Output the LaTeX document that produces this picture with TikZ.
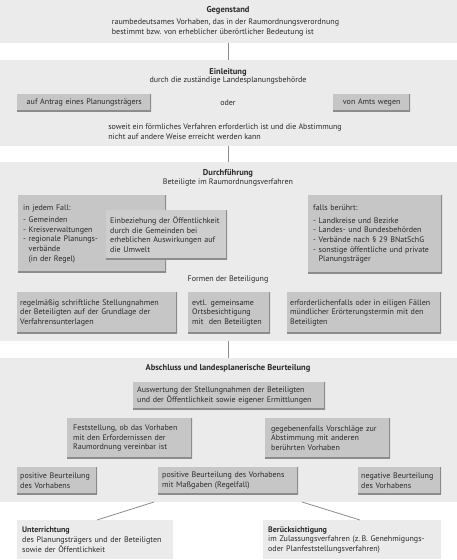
\documentclass[tikz,border=0pt]{standalone}
\usepackage{fontspec}
\setmainfont{PT Sans}
\definecolor{panelc}{HTML}{EBEBEB}
\definecolor{boxc}{HTML}{C6C6C6}
\definecolor{boxd}{HTML}{CECECE}
\definecolor{shadc}{HTML}{8C8C8C}
\definecolor{txtc}{HTML}{2A2A2A}
\definecolor{linec}{HTML}{8C8C8C}
\begin{document}
\begin{tikzpicture}[x=1pt,y=-1pt,
 every node/.style={font=\fontsize{8}{9.6}\selectfont, text=txtc},
 panel/.style={fill=panelc, anchor=north west, minimum width=457pt, inner sep=0pt},
 box/.style={fill=boxc, anchor=north west, inner xsep=4pt, inner ysep=0pt, align=left,
   path picture={\draw[shadc,line width=1.6pt] (path picture bounding box.north east) -- (path picture bounding box.south east) -- (path picture bounding box.south west);}},
 plainbox/.style={fill=panelc, anchor=north west, inner xsep=5pt, inner ysep=0pt, align=left},
 conn/.style={draw=linec, line width=0.8pt},
 title/.style={font=\fontsize{8.5}{9.6}\selectfont\bfseries}
]
\useasboundingbox[fill=white] (0,0) rectangle (457,560);
% panels
\node[panel, minimum height=43pt] (p1) at (0,0) {};
\node[panel, minimum height=86pt] (p2) at (0,60) {};
\node[panel, minimum height=179pt] (p3) at (0,162) {};
\node[panel, minimum height=144pt] (p4) at (0,358) {};
\draw[conn] (p1.south) -- (p2.north);
\draw[conn] (p2.south) -- (p3.north);
\draw[conn] (p3.south) -- (p4.north);
% Gegenstand
\node[title] (t1) at (228,10) {Gegenstand};
\node[align=left] (t1b) at (225.5,27.5) {raumbedeutsames Vorhaben, das in der Raumordnungsverordnung\\bestimmt bzw. von erheblicher überörtlicher Bedeutung ist};
% Einleitung
\node[title] (t2) at (228,72) {Einleitung};
\node (t2b) at (228,81) {durch die zuständige Landesplanungsbehörde};
\node[box, align=center, text width=126pt, minimum height=17pt] (a1) at (17,94) {auf Antrag eines Planungsträgers};
\node (oder) at (228,102.5) {oder};
\node[box, align=center, text width=69pt, minimum height=17pt] (a2) at (333,94) {von Amts wegen};
\node[align=left] (t2c) at (225,131.5) {soweit ein förmliches Verfahren erforderlich ist und die Abstimmung\\nicht auf andere Weise erreicht werden kann};
% Durchfuehrung
\node[title] (t3) at (228,173) {Durchführung};
\node (t3b) at (228,183) {Beteiligte im Raumordnungsverfahren};
\node[box, inner xsep=5pt, text width=138pt, minimum height=77pt] (jf) at (18,195) {in jedem Fall:\\[3pt]- Gemeinden\\- Kreisverwaltungen\\- regionale Planungs-\\\phantom{- }verbände\\\phantom{- }(in der Regel)};
\node[box, fill=boxd, text width=113pt, minimum height=49pt] (oe) at (106,210) {Einbeziehung der Öffentlichkeit\\durch die Gemeinden bei\\erheblichen Auswirkungen auf\\die Umwelt};
\node[box, inner xsep=5pt, text width=124pt, minimum height=78pt] (fb) at (308,195) {falls berührt:\\[3pt]- Landkreise und Bezirke\\- Landes- und Bundesbehörden\\- Verbände nach § 29 BNatSchG\\- sonstige öffentliche und private\\\phantom{- }Planungsträger};
\node (fo) at (228,280) {Formen der Beteiligung};
\node[box, inner xsep=3pt, text width=154pt, minimum height=41pt] (b1) at (17,292) {regelmäßig schriftliche Stellungnahmen\\der Beteiligten auf der Grundlage der\\Verfahrensunterlagen};
\node[box, text width=74pt, minimum height=41pt] (b2) at (188,292) {evtl. gemeinsame\\Ortsbesichtigung\\mit\ \ den Beteiligten};
\node[box, inner xsep=3pt, text width=148pt, minimum height=41pt] (b3) at (287,292) {erforderlichenfalls oder in eiligen Fällen\\mündlicher Erörterungstermin mit den\\Beteiligten};
% Abschluss
\node[title] (t4) at (228,368) {Abschluss und landesplanerische Beurteilung};
\node[box, text width=184pt, minimum height=27pt] (aw) at (133,382) {Auswertung der Stellungnahmen der Beteiligten\\und der Öffentlichkeit sowie eigener Ermittlungen};
\node[box, inner xsep=6pt, text width=113pt, minimum height=40pt] (fs) at (67,418) {Feststellung, ob das Vorhaben\\mit den Erfordernissen der\\Raumordnung vereinbar ist};
\node[box, inner xsep=6pt, text width=113pt, minimum height=40pt] (gv) at (265,418) {gegebenenfalls Vorschläge zur\\Abstimmung mit anderen\\berührten Vorhaben};
\node[box, inner xsep=3pt, text width=74pt, minimum height=27pt] (pb) at (17,467) {positive Beurteilung\\des Vorhabens};
\node[box, text width=132pt, minimum height=27pt] (pm) at (158,467) {positive Beurteilung des Vorhabens\\mit Maßgaben (Regelfall)};
\node[box, inner xsep=3pt, text width=77pt, minimum height=27pt] (nb) at (358,467) {negative Beurteilung\\des Vorhabens};
% bottom
\node[plainbox, text width=146pt, minimum height=39pt] (unt) at (17,520) {\textbf{Unterrichtung}\\des Planungsträgers und der Beteiligten\\sowie der Öffentlichkeit};
\node[plainbox, text width=168pt, minimum height=39pt] (ber) at (263,520) {\textbf{Berücksichtigung}\\im Zulassungsverfahren (z.\,B. Genehmigungs-\\oder Planfeststellungsverfahren)};
\coordinate (d1) at (154,502);
\coordinate (d2) at (302,502);
\draw[conn] (d1) -- ([xshift=80pt]unt.north west);
\draw[conn] (d2) -- ([xshift=97pt]ber.north west);
\end{tikzpicture}
\end{document}
